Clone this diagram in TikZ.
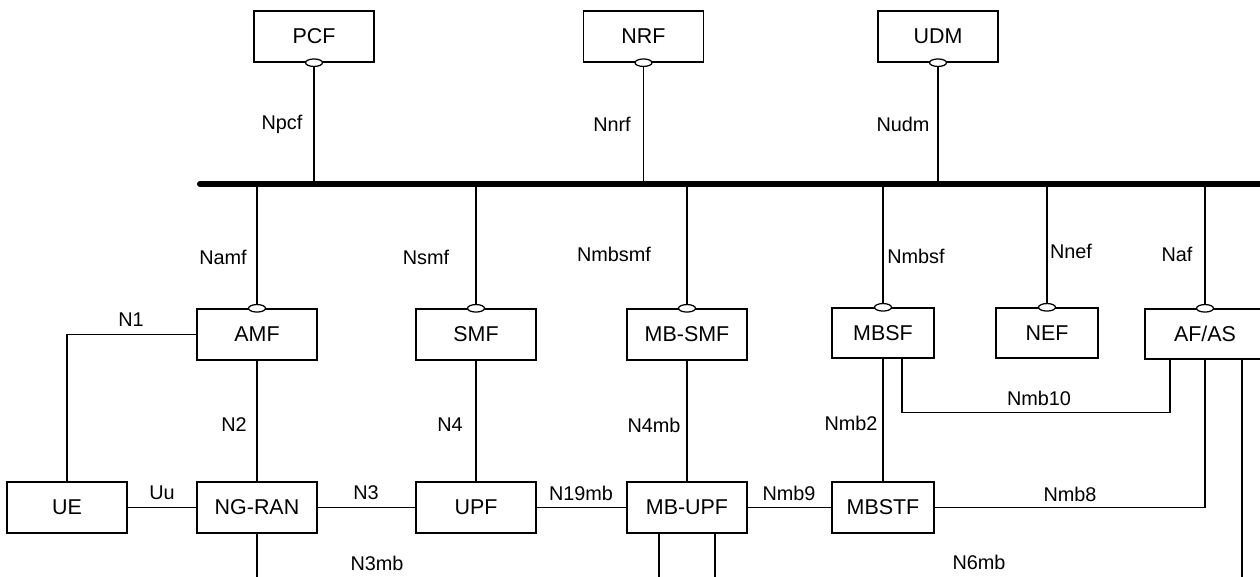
\documentclass[tikz,border=0pt]{standalone}
\usepackage{fontspec}
\setmainfont{Liberation Sans}
\usetikzlibrary{shapes.geometric,calc}

\begin{document}
\begin{tikzpicture}[x=0.02cm, y=-0.02cm,
    nf/.style={draw, rectangle, line width=0.8pt, minimum width=2.4cm, minimum height=1.02cm, inner sep=0pt, font=\fontsize{12.2}{14}\selectfont},
    nfnarrow/.style={nf, minimum width=2.04cm, minimum height=1.0cm},
    port/.style={draw, ellipse, fill=white, line width=0.7pt, minimum width=0.34cm, minimum height=0.15cm, inner sep=0pt},
    link/.style={line width=0.75pt},
    busline/.style={line width=3.4pt, line cap=round},
    iflabel/.style={inner sep=0pt, font=\fontsize{11.3}{13}\selectfont}]

    \useasboundingbox (0,0) rectangle (1260,576);
    \clip (0,0) rectangle (1260,576);

    % Service based bus
    \coordinate (busstart) at (200,184);
    \coordinate (busend) at (1290,184);
    \coordinate (bottom) at (0,600);
    \draw[busline] (busstart) -- (busend);

    % Top row of network functions
    \node[nf] (pcf) at (314,36.5) {PCF};
    \node[nf] (nrf) at (643.5,36.5) {NRF};
    \node[nf] (udm) at (938,36.5) {UDM};

    % Middle row of network functions
    \node[nf] (amf) at (257,334.5) {AMF};
    \node[nf] (smf) at (476,334.5) {SMF};
    \node[nf] (mbsmf) at (687,334.5) {MB-SMF};
    \node[nfnarrow] (mbsf) at (883,333) {MBSF};
    \node[nfnarrow] (nef) at (1047,333) {NEF};
    \node[nf, minimum height=1.0cm] (afas) at (1205,334) {AF/AS};

    % Bottom row of network functions
    \node[nf] (ue) at (67,507.5) {UE};
    \node[nf] (ngran) at (257,507.5) {NG-RAN};
    \node[nf] (upf) at (476,507.5) {UPF};
    \node[nf] (mbupf) at (687,507.5) {MB-UPF};
    \node[nfnarrow, minimum height=1.02cm] (mbstf) at (883,507.5) {MBSTF};

    % Service interfaces above the bus
    \foreach \nfname in {pcf, nrf, udm} {
        \draw[link] (\nfname.south) -- (\nfname.south |- busstart);
        \node[port] (\nfname port) at (\nfname.south) {};
    }

    % Service interfaces below the bus
    \foreach \nfname in {amf, smf, mbsmf, mbsf, nef, afas} {
        \draw[link] (\nfname.north) -- (\nfname.north |- busstart);
        \node[port] (\nfname port) at (\nfname.north) {};
    }

    % Service interface labels
    \node[iflabel] (lnpcf) at (282,124) {Npcf};
    \node[iflabel] (lnnrf) at (612,124) {Nnrf};
    \node[iflabel] (lnudm) at (903,124) {Nudm};
    \node[iflabel] (lnamf) at (223,257) {Namf};
    \node[iflabel] (lnsmf) at (426,257) {Nsmf};
    \node[iflabel] (lnmbsmf) at (614,254) {Nmbsmf};
    \node[iflabel] (lnmbsf) at (916,256) {Nmbsf};
    \node[iflabel] (lnnef) at (1071,251) {Nnef};
    \node[iflabel] (lnaf) at (1177,254) {Naf};

    % Reference points between network functions
    \draw[link] (amf.west) -| (ue.north);
    \draw[link] (amf) -- (ngran);
    \draw[link] (smf) -- (upf);
    \draw[link] (mbsmf) -- (mbupf);
    \draw[link] (mbsf) -- (mbstf);
    \draw[link] (ue) -- (ngran);
    \draw[link] (ngran) -- (upf);
    \draw[link] (upf) -- (mbupf);
    \draw[link] (mbupf) -- (mbstf);
    \draw[link] ($(mbsf.south)+(19,0)$) -- ++(0,54) -| ($(afas.south)+(-35,0)$);
    \draw[link] (mbstf.east) -| (afas.south);

    % Reference points leaving the picture at the bottom
    \draw[link] (ngran.south) -- (ngran.south |- bottom);
    \draw[link] ($(mbupf.south)+(-28,0)$) -- ++(0,80);
    \draw[link] ($(mbupf.south)+(28,0)$) -- ++(0,80);
    \draw[link] ($(afas.south)+(37,0)$) -- ++(0,260);

    % Reference point labels
    \node[iflabel] (ln1) at (131,320) {N1};
    \node[iflabel] (ln2) at (234,425) {N2};
    \node[iflabel] (ln4) at (450,425) {N4};
    \node[iflabel] (ln4mb) at (654,425) {N4mb};
    \node[iflabel] (lnmb2) at (851,423) {Nmb2};
    \node[iflabel] (lnmb10) at (1039,398) {Nmb10};
    \node[iflabel] (luu) at (162,493) {Uu};
    \node[iflabel] (ln3) at (366,493) {N3};
    \node[iflabel] (ln19mb) at (581,493) {N19mb};
    \node[iflabel] (lnmb9) at (789,493) {Nmb9};
    \node[iflabel] (lnmb8) at (1070,494) {Nmb8};
    \node[iflabel] (ln3mb) at (377,563) {N3mb};
    \node[iflabel] (ln6mb) at (979,562) {N6mb};

\end{tikzpicture}
\end{document}
